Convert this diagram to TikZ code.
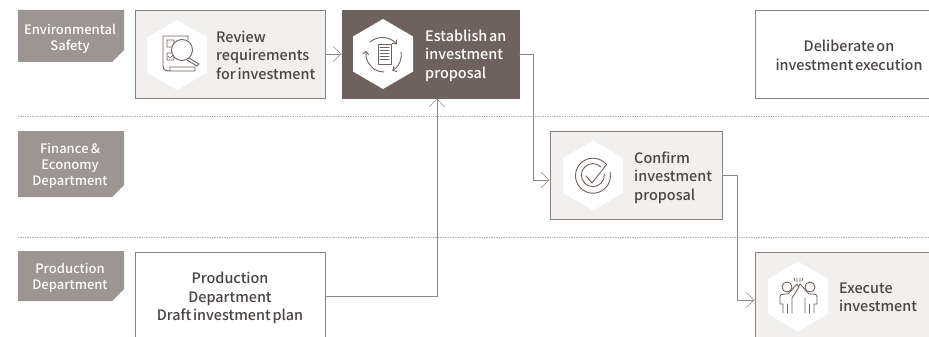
\documentclass[tikz,border=0pt]{standalone}
\usepackage{fontspec}
\setmainfont[UprightFont={* Medium},WordSpace=0.55]{Noto Sans CJK KR}
\usepackage{tikz}
\usetikzlibrary{arrows.meta,positioning,calc}

\definecolor{stepfill}{HTML}{F2F0EE}
\definecolor{stepline}{HTML}{8C817B}
\definecolor{stepdark}{HTML}{6F625C}
\definecolor{deptfill}{HTML}{9C9591}
\definecolor{linkline}{HTML}{8F8783}
\definecolor{steptext}{HTML}{4A4543}

\begin{document}
\begin{tikzpicture}
        [
            x=1pt, y=-1pt,
            stepbox/.style={draw=stepline, line width=0.9pt, fill=stepfill, minimum height=88pt, inner sep=0pt},
            openbox/.style={stepbox, fill=white},
            darkbox/.style={stepbox, draw=stepdark, fill=stepdark},
            steplabel/.style={text=steptext, font=\fontsize{14.4}{18.5}\selectfont, inner sep=0pt},
            dept/.style={fill=deptfill},
            deptlabel/.style={text=white, align=center, font=\fontsize{13}{16.3}\selectfont, inner sep=0pt},
            link/.style={draw=linkline, line width=0.8pt, -{Straight Barb[length=8pt,width=15pt,line width=0.5pt]}},
            swim/.style={draw=black!30, line width=0.7pt, densely dotted},
            icon/.style={draw=stepdark, line width=0.9pt, line cap=round, line join=round},
        ]
            \clip (0,0) rectangle (929,337);
            \useasboundingbox (0,0) rectangle (929,337);

            \coordinate (S1) at (18,116);
            \coordinate (S2) at (929,116);
            \coordinate (S3) at (18,237);
            \coordinate (S4) at (929,237);
            \draw[swim] (S1) -- (S2);
            \draw[swim] (S3) -- (S4);

            % departments
            \fill[dept] (18,10) -- (124,10) -- (124,50) -- (112,62) -- (18,62) -- cycle;
            \fill[dept] (18,131) -- (124,131) -- (124,185) -- (112,197) -- (18,197) -- cycle;
            \fill[dept] (18,251) -- (124,251) -- (124,289) -- (112,301) -- (18,301) -- cycle;
            \node[deptlabel] (safety) at (70,38.5) {Environmental\\Safety};
            \node[deptlabel] (finance) at (70,166) {Finance\,\&\\Economy\\Department};
            \node[deptlabel] (production) at (70,278) {Production\\Department};

            % steps
            \node[stepbox, minimum width=190pt] (review) at (230,54) {};
            \node[darkbox, minimum width=177pt] (establish) at (430.5,54) {};
            \node[openbox, minimum width=190pt] (deliberate) at (850,54) {};
            \node[stepbox, minimum width=172pt] (confirm) at (636,175.5) {};
            \node[openbox, minimum width=190pt] (draft) at (230,296) {};
            \node[stepbox, minimum width=190pt] (execute) at (850,296) {};

            \foreach \cx/\cy in {177/55, 383/54, 593/175.5, 798/296.5}
                \fill[white] (\cx,\cy-35) -- (\cx+30,\cy-17.5) -- (\cx+30,\cy+17.5) -- (\cx,\cy+35) -- (\cx-30,\cy+17.5) -- (\cx-30,\cy-17.5) -- cycle;

            \node[steplabel, anchor=west, align=left] (reviewtext) at (216,55) {Review\\requirements\\for investment};
            \node[steplabel, anchor=west, align=left, text=white] (establishtext) at (425,55.5) {Establish an\\investment\\proposal};
            \node[steplabel, align=center] (deliberatetext) at (849,55.5) {Deliberate on\\investment execution};
            \node[steplabel, anchor=west, align=left] (confirmtext) at (634,177.5) {Confirm\\investment\\proposal};
            \node[steplabel, align=center] (drafttext) at (230,298) {Production\\Department\\Draft investment plan};
            \node[steplabel, anchor=west, align=left] (executetext) at (839,297.5) {Execute\\investment};

            % connectors
            \draw[link] (review.east) -- (establish.west);
            \draw[link] (establish.east) -- ++(14,0) |- ([yshift=-4.5pt]confirm.west);
            \draw[link] (draft.east) -| ([xshift=6.5pt]establish.south);
            \draw[link] (confirm.east) -- ++(15,0) |- ([yshift=-4pt]execute.west);

            % review icon
            \draw[icon] (188,40) -- (188,36) -- (163,36) -- (163,66) .. controls (163,70) and (166,71) .. (170,71) -- (195,71) -- (195,67) -- (170,67) -- (170,71);
            \draw[icon, line width=0.7pt] (167,40) rectangle (174,47) (167,53) rectangle (174,60) (168,56) -- (170,58) -- (173,55);
            \draw[icon, fill=white] (182,50) circle (10.5pt);
            \draw[icon] (189,58) -- (199,64) -- (197,66) -- (187,60);

            % proposal icon
            \draw[icon] (378,44) rectangle (391,64);
            \foreach \ly in {48,51,54,57,60}
                \draw[icon, line width=1pt] (380,\ly) -- (389,\ly);
            \draw[icon, -{Straight Barb[length=3pt,width=6pt]}] (370,42) arc[start angle=130, end angle=40, radius=19pt];
            \draw[icon, -{Straight Barb[length=3pt,width=6pt]}] (401,52) arc[start angle=10, end angle=-60, radius=18pt];
            \draw[icon, -{Straight Barb[length=3pt,width=6pt]}] (384,72) arc[start angle=-90, end angle=-190, radius=18pt];

            % confirm icon
            \draw[icon] (606,164) arc[start angle=42, end angle=372, radius=17.5pt];
            \draw[icon] (601,167) arc[start angle=45, end angle=365, radius=11.5pt];
            \draw[icon] (586,176) -- (592,183) -- (607,164);

            % execute icon
            \draw[icon] (787,287) circle (5pt) (810,287) circle (5pt);
            \draw[icon] (797,278) -- (797,282) (800,278) -- (800,282) (794,278) -- (795,281) (803,278) -- (802,281);
            \draw[icon] (783,313) -- (783,304) -- (780,304) -- (780,297) .. controls (780,294) and (782,294) .. (788,294) -- (797,284) -- (799,287) -- (792,298) -- (792,313);
            \draw[icon] (814,313) -- (814,304) -- (817,304) -- (817,297) .. controls (817,294) and (815,294) .. (809,294) -- (800,284) -- (798,287) (805,298) -- (805,313);
            \draw[icon] (787.5,304) -- (787.5,313) (809.5,304) -- (809.5,313);
        \end{tikzpicture}
\end{document}
